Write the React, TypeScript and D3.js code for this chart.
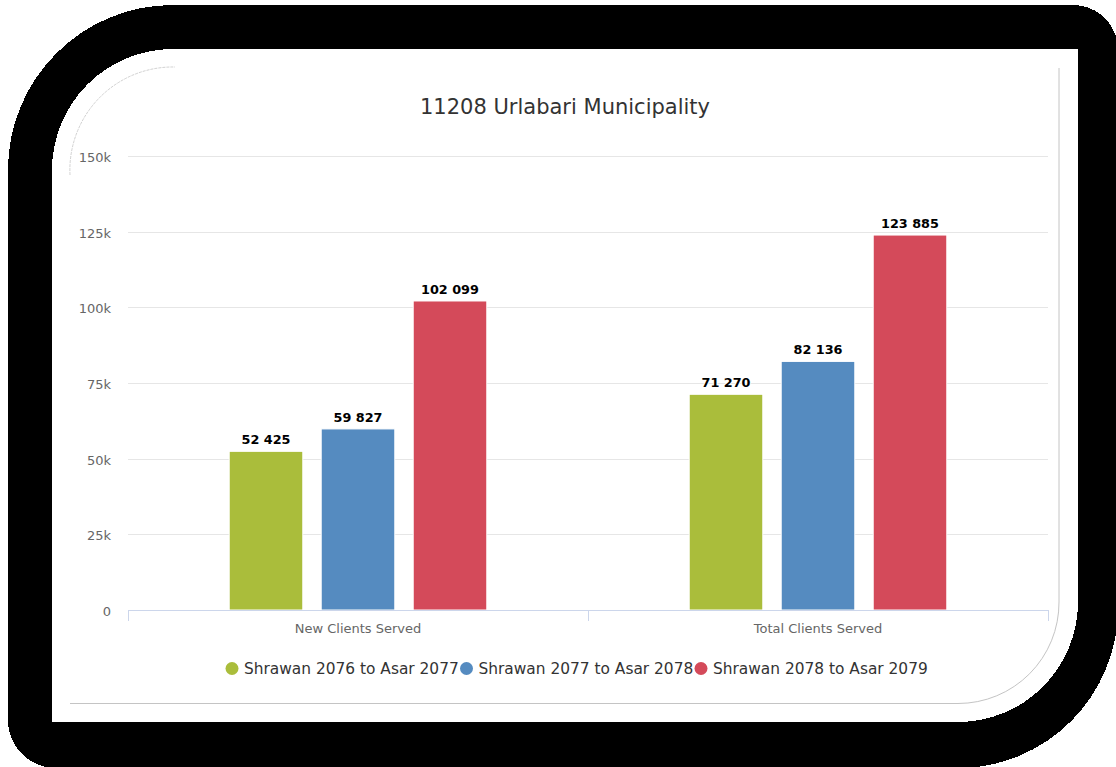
import React from "react";
import * as d3 from "d3";

const title = "11208 Urlabari Municipality";
const categories = ["New Clients Served", "Total Clients Served"];
const seriesNames = ["Shrawan 2076 to Asar 2077", "Shrawan 2077 to Asar 2078", "Shrawan 2078 to Asar 2079"];
const seriesColors = ["#aabd3b", "#558bc0", "#d44a5a"];
const series2076 = [52425, 71270];
const series2077 = [59827, 82136];
const series2078 = [102099, 123885];
const yTicks = [0, 25000, 50000, 75000, 100000, 125000, 150000];

const seriesValues = [series2076, series2077, series2078];

const W = 1116;
const H = 767;
const plotLeft = 128;
const plotRight = 1048;
const plotTop = 156;
const plotBottom = 610;

const locale = d3.formatLocale({ thousands: " ", grouping: [3], decimal: ".", currency: ["", ""] });
const fmtVal = locale.format(",d");
const fmtTick = (v: number) => (v === 0 ? "0" : `${v / 1000}k`);

const FONT = "'DejaVu Sans', Verdana, sans-serif";

export default function App() {
  const x0 = d3.scaleBand<string>().domain(categories).range([plotLeft, plotRight]).paddingInner(0).paddingOuter(0);
  const x1 = d3
    .scaleBand<number>()
    .domain(seriesNames.map((_, i) => i))
    .range([x0.bandwidth() * 0.2, x0.bandwidth() * 0.8])
    .paddingInner(0.2)
    .paddingOuter(0.1);
  const y = d3.scaleLinear().domain([0, 150000]).range([plotBottom, plotTop]);

  const outer =
    "M 173 5 L 1073 5 A 45 45 0 0 1 1118 50 L 1118 608 A 160 160 0 0 1 958 768 L 56 768 A 48 48 0 0 1 8 720 L 8 170 A 165 165 0 0 1 173 5 Z";
  const inner =
    "M 173 49 L 1078 49 L 1078 602 A 120 120 0 0 1 958 722 L 52 722 L 52 170 A 121 121 0 0 1 173 49 Z";

  const legendStart = 232;
  const legendStep = 234.5;

  return (
    <svg
      width={W}
      height={H}
      viewBox={`0 0 ${W} ${H}`}
      style={{ position: "absolute", left: 0, top: 0, background: "#fff" }}
    >
      <path d={`${outer} ${inner}`} fill="#000" fillRule="evenodd" shapeRendering="crispEdges" />
      {/* card border */}
      <path d="M 70 175 A 103 103 0 0 1 175 67" fill="none" stroke="#bdbdbd" strokeWidth={0.7} strokeDasharray="3 1" />
      <path d="M 1059 68 L 1059 602 A 101 101 0 0 1 958 703.5 L 70 703.5" fill="none" stroke="#c4c4c4" strokeWidth={1} />

      <text x={565} y={114} textAnchor="middle" fontFamily={FONT} fontSize={21} fill="#333">
        {title}
      </text>

      {/* grid + y labels */}
      {yTicks.map((t) => (
        <g key={t}>
          {t !== 0 && (
            <line x1={plotLeft} x2={plotRight} y1={Math.round(y(t)) + 0.5} y2={Math.round(y(t)) + 0.5} stroke="#e6e6e6" />
          )}
          <text x={111} y={y(t) + 6} textAnchor="end" fontFamily={FONT} fontSize={13} fill="#666">
            {fmtTick(t)}
          </text>
        </g>
      ))}

      {/* bars */}
      {categories.map((c, ci) => (
        <g key={c} transform={`translate(${x0(c)},0)`}>
          {seriesValues.map((vals, si) => (
            <rect
              key={si}
              x={x1(si)}
              y={y(vals[ci])}
              width={x1.bandwidth()}
              height={y(0) - y(vals[ci])}
              fill={seriesColors[si]}
              stroke="#fff"
              strokeWidth={1}
            />
          ))}
          {seriesValues.map((vals, si) => (
            <text
              key={"l" + si}
              x={(x1(si) as number) + x1.bandwidth() / 2}
              y={y(vals[ci]) - 7}
              textAnchor="middle"
              fontFamily={FONT}
              fontSize={12.8}
              fontWeight="bold"
              fill="#000"
              stroke="#fff"
              strokeWidth={2}
              paintOrder="stroke"
              strokeLinejoin="round"
            >
              {fmtVal(vals[ci])}
            </text>
          ))}
        </g>
      ))}

      {/* x axis */}
      <line x1={plotLeft} x2={plotRight} y1={plotBottom + 0.5} y2={plotBottom + 0.5} stroke="#ccd6eb" />
      {[plotLeft, ...categories.map((c) => (x0(c) as number) + x0.bandwidth())].map((tx, i) => (
        <line key={i} x1={tx + 0.5} x2={tx + 0.5} y1={plotBottom} y2={plotBottom + 11} stroke="#ccd6eb" />
      ))}
      {categories.map((c) => (
        <text
          key={c}
          x={(x0(c) as number) + x0.bandwidth() / 2}
          y={633}
          textAnchor="middle"
          fontFamily={FONT}
          fontSize={13}
          fill="#666"
        >
          {c}
        </text>
      ))}

      {/* legend */}
      {seriesNames.map((n, i) => (
        <g key={n} transform={`translate(${legendStart + i * legendStep},0)`}>
          <circle cx={0} cy={668.5} r={6.5} fill={seriesColors[i]} />
          <text x={12} y={674} fontFamily={FONT} fontSize={15.4} fill="#333">
            {n}
          </text>
        </g>
      ))}
    </svg>
  );
}
